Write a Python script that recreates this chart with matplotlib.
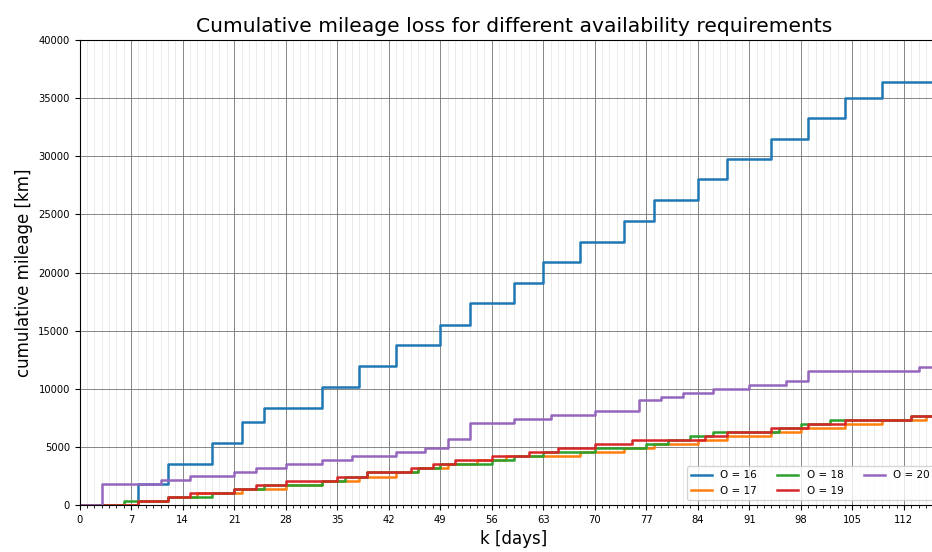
import numpy as np
import matplotlib
matplotlib.use("Agg")
import matplotlib.pyplot as plt
from matplotlib.ticker import MultipleLocator

# availability requirement of each run
requirements = [16, 17, 18, 19, 20]

# days at which the cumulative loss steps up, and the loss after the step [km]
days_16 = [0, 8, 12, 18, 22, 25, 33, 38, 43, 49, 53, 59, 63, 68, 74, 78, 84, 88, 94, 99, 104, 109]
km_16 = [0, 1780, 3570, 5330, 7140, 8360, 10150, 11930, 13730, 15500, 17350, 19100,
         20900, 22650, 24450, 26200, 28050, 29750, 31500, 33270, 35020, 36350]

days_17 = [0, 8, 12, 16, 22, 28, 33, 38, 43, 46, 50, 54, 58, 68, 74, 78, 84, 88, 94, 98, 104, 109, 115]
km_17 = [0, 350, 700, 1050, 1400, 1750, 2100, 2450, 2800, 3150, 3500, 3850, 4220,
         4570, 4920, 5270, 5610, 5960, 6310, 6660, 7000, 7340, 7690]

days_18 = [0, 6, 12, 18, 21, 25, 33, 36, 39, 46, 49, 56, 59, 63, 70, 77, 80, 83, 86, 95, 98, 102, 113]
km_18 = [0, 350, 700, 1050, 1400, 1750, 2100, 2450, 2800, 3150, 3500, 3850, 4220,
         4570, 4920, 5270, 5610, 5960, 6310, 6660, 7000, 7340, 7690]

days_19 = [0, 8, 12, 15, 21, 24, 28, 35, 39, 45, 48, 51, 56, 61, 65, 70, 75, 85, 88, 94, 99, 104, 113]
km_19 = [0, 350, 700, 1050, 1400, 1750, 2100, 2450, 2800, 3150, 3500, 3850, 4220,
         4570, 4920, 5270, 5610, 5960, 6310, 6660, 7000, 7340, 7690]

days_20 = [0, 3, 11, 15, 21, 24, 28, 33, 37, 43, 47, 50, 53, 59, 64, 70, 76, 79, 82, 86, 91, 96, 99, 114]
km_20 = [0, 1770, 2120, 2470, 2820, 3180, 3550, 3880, 4240, 4570, 4940, 5710, 7060,
         7400, 7780, 8120, 9050, 9290, 9630, 9950, 10340, 10660, 11490, 11860]

X_MAX = 118


def main():
    fig = plt.figure(figsize=(9.32, 5.52), dpi=100)
    ax = fig.add_axes([0.0854, 0.0851, 0.9318, 0.8424])

    series = [(days_16, km_16), (days_17, km_17), (days_18, km_18),
              (days_19, km_19), (days_20, km_20)]
    for o, (days, km) in zip(requirements, series):
        # hold the last value up to the end of the horizon
        x = np.append(days, X_MAX)
        y = np.append(km, km[-1])
        ax.step(x, y, where='post', lw=1.8, label='O = %d' % o)

    ax.set_xlim(0, X_MAX)
    ax.set_ylim(0, 40000)
    ax.xaxis.set_major_locator(MultipleLocator(7))
    ax.xaxis.set_minor_locator(MultipleLocator(1))
    ax.yaxis.set_major_locator(MultipleLocator(5000))
    ax.tick_params(axis='both', which='major', labelsize=7.2)
    ax.tick_params(axis='x', which='minor', length=2)

    ax.set_axisbelow(True)
    ax.grid(which='major', color='0.45', lw=0.6)
    ax.grid(which='minor', axis='x', color='0.91', lw=0.6)

    ax.set_title('Cumulative mileage loss for different availability requirements', fontsize=14.6)
    ax.set_xlabel('k [days]', fontsize=12)
    ax.set_ylabel('cumulative mileage [km]', fontsize=12)
    ax.legend(ncol=3, loc='lower right', bbox_to_anchor=(0.99, 0.0), fontsize=7.5)

    fig.savefig('out.png', dpi=100)


if __name__ == "__main__":
    main()
